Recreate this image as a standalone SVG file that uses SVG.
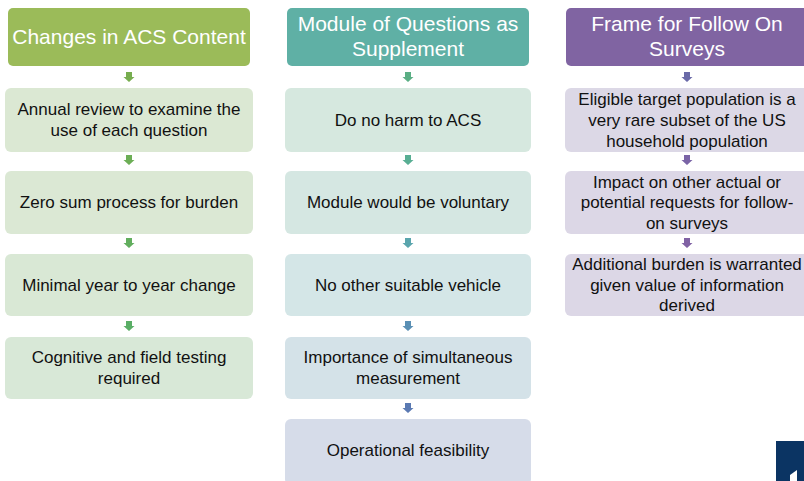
<svg xmlns="http://www.w3.org/2000/svg" width="804" height="481" viewBox="0 0 804 481">
<style>
.hd{font-family:"Liberation Sans",Arial,sans-serif;font-size:21px;fill:#ffffff;text-anchor:middle}
.tx{font-family:"Liberation Sans",Arial,sans-serif;font-size:17px;fill:#111111;text-anchor:middle}
</style>
<defs>
<path id="arr" d="M-3,0 H3 V5 H5.5 L0,10 L-5.5,5 H-3 Z"/>
</defs>
<rect width="804" height="481" fill="#ffffff"/>
<g id="connectors">
<use href="#arr" x="129" y="72" fill="#77ad4f"/>
<use href="#arr" x="129" y="155" fill="#6cae56"/>
<use href="#arr" x="129" y="238" fill="#62ae5e"/>
<use href="#arr" x="129" y="321" fill="#5aae66"/>
<use href="#arr" x="408" y="72" fill="#5aae84"/>
<use href="#arr" x="408" y="155" fill="#58ae93"/>
<use href="#arr" x="408" y="238" fill="#5aa5ad"/>
<use href="#arr" x="408" y="321" fill="#5a8fb4"/>
<use href="#arr" x="408" y="403" fill="#5a79b2"/>
<use href="#arr" x="687" y="72" fill="#6a6aa8"/>
<use href="#arr" x="687" y="155" fill="#7a64a6"/>
<use href="#arr" x="687" y="238" fill="#8062a4"/>
</g>
<g id="h1"><rect x="8" y="8" width="242" height="58" rx="5" fill="#9bbb59"/><text class="hd" x="129" y="44">Changes in ACS Content</text></g>
<g id="h2"><rect x="287" y="8" width="242" height="58" rx="5" fill="#5fb0a5"/><text class="hd" x="408" y="31">Module of Questions as</text><text class="hd" x="408" y="56">Supplement</text></g>
<g id="h3"><rect x="566" y="8" width="242" height="58" rx="5" fill="#8064a2"/><text class="hd" x="687" y="31">Frame for Follow On</text><text class="hd" x="687" y="56">Surveys</text></g>
<g id="a1"><rect x="5" y="88" width="248" height="64" rx="6" fill="#dbe8d3"/><text class="tx" x="129" y="115">Annual review to examine the</text><text class="tx" x="129" y="136">use of each question</text></g>
<g id="a2"><rect x="5" y="171" width="248" height="63" rx="6" fill="#dbe8d4"/><text class="tx" x="129" y="208">Zero sum process for burden</text></g>
<g id="a3"><rect x="5" y="254" width="248" height="62" rx="6" fill="#d9e8d5"/><text class="tx" x="129" y="291">Minimal year to year change</text></g>
<g id="a4"><rect x="5" y="337" width="248" height="62" rx="6" fill="#d8e8d7"/><text class="tx" x="129" y="363">Cognitive and field testing</text><text class="tx" x="129" y="384">required</text></g>
<g id="b1"><rect x="285" y="88" width="246" height="64" rx="6" fill="#d6e8df"/><text class="tx" x="408" y="126">Do no harm to ACS</text></g>
<g id="b2"><rect x="285" y="171" width="246" height="63" rx="6" fill="#d5e7e2"/><text class="tx" x="408" y="208">Module would be voluntary</text></g>
<g id="b3"><rect x="285" y="254" width="246" height="62" rx="6" fill="#d4e6e7"/><text class="tx" x="408" y="291">No other suitable vehicle</text></g>
<g id="b4"><rect x="285" y="337" width="246" height="62" rx="6" fill="#d4e2e8"/><text class="tx" x="408" y="363">Importance of simultaneous</text><text class="tx" x="408" y="384">measurement</text></g>
<g id="b5"><rect x="285" y="419" width="246" height="66" rx="6" fill="#d6dce9"/><text class="tx" x="408" y="456">Operational feasibility</text></g>
<g id="c1"><rect x="565" y="88" width="246" height="64" rx="6" fill="#dcd8e6"/><text class="tx" x="687" y="105">Eligible target population is a</text><text class="tx" x="687" y="126">very rare subset of the US</text><text class="tx" x="687" y="147">household population</text></g>
<g id="c2"><rect x="565" y="171" width="246" height="63" rx="6" fill="#dcd7e6"/><text class="tx" x="687" y="188">Impact on other actual or</text><text class="tx" x="687" y="208">potential requests for follow-</text><text class="tx" x="687" y="229">on surveys</text></g>
<g id="c3"><rect x="565" y="254" width="246" height="62" rx="6" fill="#dcd7e6"/><text class="tx" x="687" y="270">Additional burden is warranted</text><text class="tx" x="687" y="291">given value of information</text><text class="tx" x="687" y="311">derived</text></g>
<g id="corner"><rect x="776" y="441" width="28" height="40" fill="#0b3463"/><path d="M790,475 L797,470 L797,481 L790,481 Z" fill="#ffffff"/></g>
</svg>
